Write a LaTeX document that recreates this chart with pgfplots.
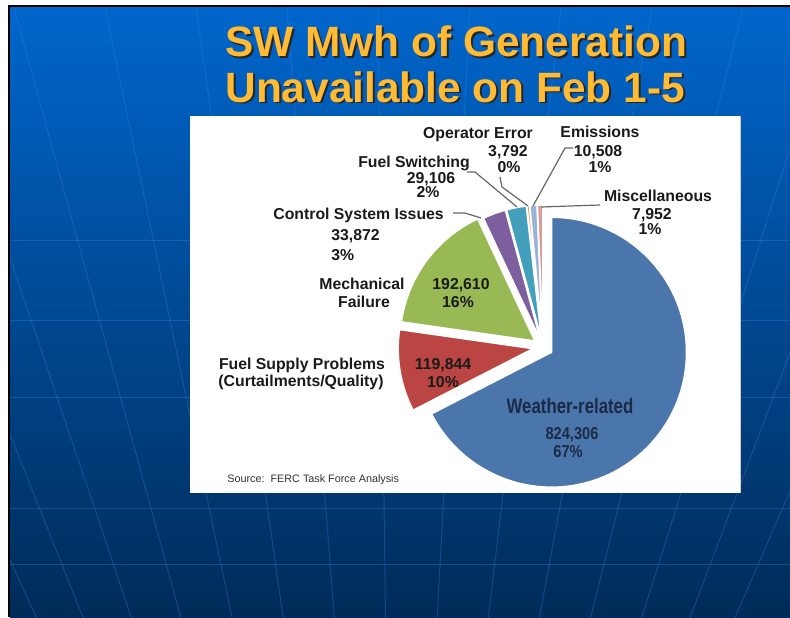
\documentclass[border=0pt]{standalone}
\usepackage{pgfplots}
\pgfplotsset{compat=1.18}
\usepackage{pgfplotstable}
\usepackage{graphicx}
\usepackage{fontspec}
\setmainfont{Liberation Sans}
\definecolor{cBlue}{HTML}{4B76AC}
\definecolor{cRed}{HTML}{BA4542}
\definecolor{cGreen}{HTML}{98B954}
\definecolor{cPurple}{HTML}{7D5FA0}
\definecolor{cTeal}{HTML}{42A0BC}
\definecolor{cOrange}{HTML}{F38B32}
\definecolor{cLBlue}{HTML}{98B3DA}
\definecolor{cPink}{HTML}{DC9A98}
\definecolor{bgTop}{HTML}{0066CC}
\definecolor{bgMid}{HTML}{004D99}
\definecolor{bgBot}{HTML}{002B58}
\definecolor{gridc}{HTML}{3A86DE}
\definecolor{titlec}{HTML}{FFBB33}
\definecolor{txt}{HTML}{1A1A1A}
\definecolor{navy}{HTML}{1B2A45}
\definecolor{leader}{HTML}{666666}

% values in MWh, explode distance in px
\pgfplotstableread{
row value explode
0 824306 10
1 119844 10
2 192610 10
3 33872 7
4 29106 7
5 3792 7
6 10508 7
7 7952 7
}\piedata

\newcommand\getrow[3]{%
  \pgfplotstablegetelem{#1}{value}\of\piedata
  \pgfkeys{/pgf/fpu=true,/pgf/fpu/output format=fixed}%
  \pgfmathsetmacro#2{\pgfplotsretval/1000}%
  \pgfkeys{/pgf/fpu=false}%
  \pgfplotstablegetelem{#1}{explode}\of\piedata
  \pgfmathsetmacro#3{\pgfplotsretval}}

\newcommand\piewedge[4]{%
  \pgfmathsetmacro\wmid{(#1+#2)/2}%
  \pgfmathsetmacro\wx{543+#3*cos(\wmid)}%
  \pgfmathsetmacro\wy{270+#3*sin(\wmid)}%
  \edef\wcmd{\noexpand\fill[#4,draw=white,line width=0.8pt,line join=round] (axis cs:\wx,\wy) -- ++(#1:67.5pt) arc[start angle=#1,end angle=#2,radius=67.5pt] -- cycle;}%
  \wcmd}

\newcommand\lab{\fontsize{7.9}{9}\selectfont\bfseries\color{txt}}

\begin{document}
\begin{tikzpicture}
\getrow{0}\vA\eA \getrow{1}\vB\eB \getrow{2}\vC\eC \getrow{3}\vD\eD
\getrow{4}\vE\eE \getrow{5}\vF\eF \getrow{6}\vG\eG \getrow{7}\vH\eH
\pgfmathsetmacro\tot{\vA+\vB+\vC+\vD+\vE+\vF+\vG+\vH}
\pgfmathsetmacro\aA{90}
\pgfmathsetmacro\aB{\aA-(\vA/\tot)*360}
\pgfmathsetmacro\aC{\aB-(\vB/\tot)*360}
\pgfmathsetmacro\aD{\aC-(\vC/\tot)*360}
\pgfmathsetmacro\aE{\aD-(\vD/\tot)*360}
\pgfmathsetmacro\aF{\aE-(\vE/\tot)*360}
\pgfmathsetmacro\aG{\aF-(\vF/\tot)*360}
\pgfmathsetmacro\aH{\aG-(\vG/\tot)*360}
\pgfmathsetmacro\aI{\aH-(\vH/\tot)*360}
\begin{axis}[
  scale only axis, width=395pt, height=308.5pt,
  xmin=0, xmax=790, ymin=0, ymax=617,
  hide axis, clip=false, disabledatascaling,
]
\coordinate (BL) at (axis cs:0,0);
\coordinate (TR) at (axis cs:790,617);
% slide background
\fill[white] (axis cs:0,0) rectangle (axis cs:790,617);
\fill[black] (axis cs:8,0) rectangle (axis cs:790,612);
\shade[top color=bgTop, middle color=bgMid, bottom color=bgBot] (axis cs:10,0) rectangle (axis cs:790,609);
\begin{scope}
\clip (axis cs:10,0) rectangle (axis cs:790,609);
\pgfplotsinvokeforeach{-243,-160,-74,14,105,196,287,378,470,561,652,743,834,920,1000}{
  \draw[gridc, opacity=0.3, line width=0.5pt] (axis cs:395,-783) -- (axis cs:#1,609);
}
\pgfplotsinvokeforeach{377,297,220,109,53}{
  \draw[gridc, opacity=0.35, line width=0.5pt] (axis cs:10,#1) -- (axis cs:790,#1);
}
\end{scope}
% title
\node[anchor=base west, inner sep=0, text=black!85] at (axis cs:227,558) {\fontsize{21.2}{25}\selectfont\bfseries SW Mwh of Generation};
\node[anchor=base west, inner sep=0, text=black!85] at (axis cs:227,513) {\fontsize{21.2}{25}\selectfont\bfseries Unavailable on Feb 1-5};
\node[anchor=base west, inner sep=0, text=titlec] at (axis cs:225,560) {\fontsize{21.2}{25}\selectfont\bfseries SW Mwh of Generation};
\node[anchor=base west, inner sep=0, text=titlec] at (axis cs:225,515) {\fontsize{21.2}{25}\selectfont\bfseries Unavailable on Feb 1-5};
% chart panel
\fill[white] (axis cs:190,124) rectangle (axis cs:740,501);
\draw[black!20, line width=0.5pt] (axis cs:740,124) -- (axis cs:740,501);
% pie wedges
\piewedge{\aA}{\aB}{\eA}{cBlue}
\piewedge{\aB}{\aC}{\eB}{cRed}
\piewedge{\aC}{\aD}{\eC}{cGreen}
\piewedge{\aD}{\aE}{\eD}{cPurple}
\piewedge{\aE}{\aF}{\eE}{cTeal}
\piewedge{\aF}{\aG}{\eF}{cOrange}
\piewedge{\aG}{\aH}{\eG}{cLBlue}
\piewedge{\aH}{\aI}{\eH}{cPink}
% leader lines
\addplot[leader, line width=0.6pt, no marks] coordinates {(500,440) (502,430) (528,411)};
\addplot[leader, line width=0.6pt, no marks] coordinates {(573,469) (565,469) (533,411)};
\addplot[leader, line width=0.6pt, no marks] coordinates {(467,445) (475,445) (517,410)};
\addplot[leader, line width=0.6pt, no marks] coordinates {(453,404) (465,404) (481,399)};
\addplot[leader, line width=0.6pt, no marks] coordinates {(541,410) (600,412)};
% labels
\node[anchor=base, inner sep=0] at (axis cs:478,479) {\lab Operator Error};
\node[anchor=base, inner sep=0] at (axis cs:508,461) {\lab 3,792};
\node[anchor=base, inner sep=0] at (axis cs:509,445) {\lab 0\%};
\node[anchor=base, inner sep=0] at (axis cs:600,480) {\lab Emissions};
\node[anchor=base, inner sep=0] at (axis cs:598,461) {\lab 10,508};
\node[anchor=base, inner sep=0] at (axis cs:600,445) {\lab 1\%};
\node[anchor=base, inner sep=0] at (axis cs:414,450) {\lab Fuel Switching};
\node[anchor=base, inner sep=0] at (axis cs:431,434) {\lab 29,106};
\node[anchor=base, inner sep=0] at (axis cs:428,420) {\lab 2\%};
\node[anchor=base, inner sep=0] at (axis cs:658,416) {\lab Miscellaneous};
\node[anchor=base, inner sep=0] at (axis cs:652,398) {\lab 7,952};
\node[anchor=base, inner sep=0] at (axis cs:650,383) {\lab 1\%};
\node[anchor=base west, inner sep=0] at (axis cs:273,398) {\lab Control System Issues};
\node[anchor=base west, inner sep=0] at (axis cs:331,377) {\lab 33,872};
\node[anchor=base west, inner sep=0] at (axis cs:331,357) {\lab 3\%};
\node[anchor=base, inner sep=0] at (axis cs:362,328) {\lab Mechanical};
\node[anchor=base, inner sep=0] at (axis cs:364,310) {\lab Failure};
\node[anchor=base, inner sep=0] at (axis cs:461,328) {\lab 192,610};
\node[anchor=base, inner sep=0] at (axis cs:458,310) {\lab 16\%};
\node[anchor=base, inner sep=0] at (axis cs:302,248) {\lab Fuel Supply Problems};
\node[anchor=base, inner sep=0] at (axis cs:301,231) {\lab (Curtailments/Quality)};
\node[anchor=base, inner sep=0] at (axis cs:443,248) {\lab 119,844};
\node[anchor=base, inner sep=0] at (axis cs:443,230) {\lab 10\%};
\node[anchor=base, inner sep=0, text=navy] at (axis cs:570,204) {\scalebox{0.8}[1]{\fontsize{10.5}{12}\selectfont\bfseries Weather-related}};
\node[anchor=base, inner sep=0, text=navy] at (axis cs:572,178) {\scalebox{0.85}[1]{\fontsize{8.6}{10}\selectfont\bfseries 824,306}};
\node[anchor=base, inner sep=0, text=navy] at (axis cs:568,160) {\scalebox{0.85}[1]{\fontsize{8.6}{10}\selectfont\bfseries 67\%}};
\node[anchor=base west, inner sep=0, text=black!80] at (axis cs:227,135) {\fontsize{5.4}{6.5}\selectfont Source:\ \ FERC Task Force Analysis};
\end{axis}
\pgfresetboundingbox
\path[use as bounding box] (BL) rectangle (TR);
\end{tikzpicture}
\end{document}
